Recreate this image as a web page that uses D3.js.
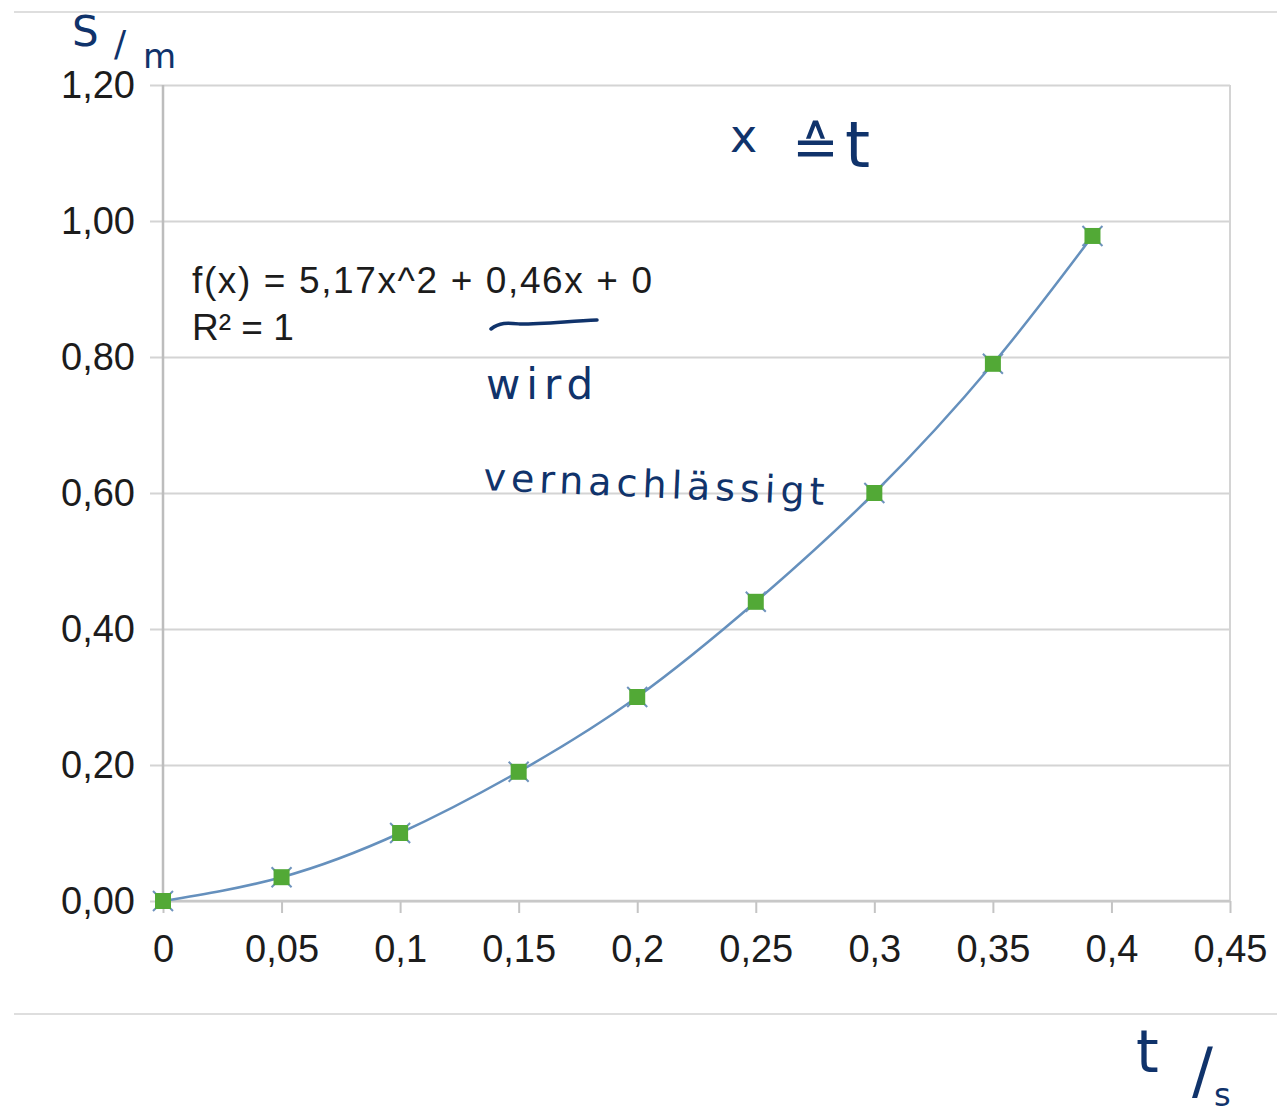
<!DOCTYPE html>
<html lang="de">
<head>
<meta charset="UTF-8">
<title>s-t Diagramm</title>
<script src="https://d3js.org/d3.v7.min.js"></script>
<style>
  body { margin: 0; background: #fff; }
  svg { display: block; }
  .tick text { font-family: "Liberation Sans", Arial, sans-serif; font-size: 38px; fill: #1c1c1c; }
  .hand { font-family: "DejaVu Sans", sans-serif; fill: #10336b; }
</style>
</head>
<body>
<div id="chart"></div>
<script>
const tValues = [0, 0.05, 0.1, 0.15, 0.2, 0.25, 0.3, 0.35, 0.392];
const sValues = [0, 0.035, 0.1, 0.19, 0.30, 0.44, 0.60, 0.79, 0.978];
const xTicks = [0, 0.05, 0.1, 0.15, 0.2, 0.25, 0.3, 0.35, 0.4, 0.45];
const yTicks = [0, 0.2, 0.4, 0.6, 0.8, 1.0, 1.2];
const equationLines = ["f(x) = 5,17x^2 + 0,46x + 0", "R² = 1"];

const width = 1277, height = 1117;
const margin = { left: 163, right: 47, top: 85, bottom: 216 };

const svg = d3.select("#chart").append("svg")
  .attr("width", width)
  .attr("height", height);

// Rahmenlinien oben/unten
svg.append("line").attr("x1", 14).attr("x2", width).attr("y1", 12).attr("y2", 12)
  .attr("stroke", "#dedede").attr("stroke-width", 2);
svg.append("line").attr("x1", 14).attr("x2", width).attr("y1", 1014).attr("y2", 1014)
  .attr("stroke", "#dedede").attr("stroke-width", 2);

const x = d3.scaleLinear().domain([0, 0.45]).range([margin.left, width - margin.right]);
const y = d3.scaleLinear().domain([0, 1.2]).range([height - margin.bottom, margin.top]);
const plotW = x(0.45) - x(0);

const comma = s => s.replace(".", ",");

// y-Achse mit Gitterlinien
const gy = svg.append("g")
  .attr("transform", `translate(${x(0)},0)`)
  .call(d3.axisLeft(y).tickValues(yTicks).tickSizeOuter(0)
    .tickFormat(d => comma(d3.format(".2f")(d))));
gy.select(".domain").remove();
gy.selectAll(".tick line").attr("x1", -13).attr("x2", plotW)
  .attr("stroke", "#d4d4d4").attr("stroke-width", 2);
gy.selectAll(".tick text").attr("x", -28);

// x-Achse
const gx = svg.append("g")
  .attr("transform", `translate(0,${y(0)})`)
  .call(d3.axisBottom(x).tickValues(xTicks).tickSizeOuter(0).tickSize(12).tickPadding(22)
    .tickFormat(d => comma(String(d))));
gx.select(".domain").remove();
gx.selectAll(".tick line").attr("stroke", "#c4c4c4").attr("stroke-width", 2);

svg.append("line").attr("x1", x(0)).attr("x2", x(0)).attr("y1", y(1.2)).attr("y2", y(0))
  .attr("stroke", "#bdbdbd").attr("stroke-width", 2.5);
svg.append("line").attr("x1", x(0.45)).attr("x2", x(0.45)).attr("y1", y(1.2)).attr("y2", y(0))
  .attr("stroke", "#d4d4d4").attr("stroke-width", 2);
svg.append("line").attr("x1", x(0)).attr("x2", x(0.45)).attr("y1", y(0)).attr("y2", y(0))
  .attr("stroke", "#c8c8c8").attr("stroke-width", 2.5);

const pts = tValues.map((t, i) => [t, sValues[i]]);

// Trendlinie
svg.append("path")
  .datum(pts)
  .attr("fill", "none")
  .attr("stroke", "#6590bd")
  .attr("stroke-width", 2.5)
  .attr("d", d3.line().x(d => x(d[0])).y(d => y(d[1])).curve(d3.curveNatural));

// Messpunkte
const m = svg.append("g").selectAll("g").data(pts).join("g")
  .attr("transform", d => `translate(${x(d[0])},${y(d[1])})`);
m.append("path").attr("d", "M-10,-10L10,10M-10,10L10,-10")
  .attr("stroke", "#6f93bd").attr("stroke-width", 2);
m.append("rect").attr("x", -8).attr("y", -8).attr("width", 16).attr("height", 16)
  .attr("fill", "#52a936");

// Gleichung
svg.append("g").selectAll("text").data(equationLines).join("text")
  .attr("x", 192)
  .attr("y", (d, i) => 293 + i * 47)
  .attr("font-family", "Liberation Sans, Arial, sans-serif")
  .attr("font-size", 37)
  .attr("fill", "#1c1c1c")
  .attr("textLength", (d, i) => i === 0 ? 460 : null)
  .text(d => d);

// handschriftliche Notizen
const hand = svg.append("g").attr("class", "hand");
hand.append("text").attr("x", 72).attr("y", 46).attr("font-size", 42).text("S");
hand.append("text").attr("x", 114).attr("y", 56).attr("font-size", 36).text("/");
hand.append("text").attr("x", 143).attr("y", 68).attr("font-size", 34).text("m");

hand.append("text").attr("x", 730).attr("y", 152).attr("font-size", 46).text("x");
hand.append("text").attr("x", 792).attr("y", 166).attr("font-size", 56).text("≙");
hand.append("text").attr("x", 845).attr("y", 167).attr("font-size", 64).text("t");

hand.append("path")
  .attr("d", "M491,329 C500,322 508,323 520,324 C545,324 570,321 597,320")
  .attr("fill", "none").attr("stroke", "#10336b").attr("stroke-width", 3.5)
  .attr("stroke-linecap", "round");
hand.append("text").attr("x", 486).attr("y", 399).attr("font-size", 42)
  .attr("letter-spacing", 6).text("wird");
hand.append("text").attr("x", 483).attr("y", 490).attr("font-size", 38)
  .attr("letter-spacing", 5)
  .attr("transform", "rotate(2.5,483,490)")
  .text("vernachlässigt");

hand.append("text").attr("x", 1136).attr("y", 1072).attr("font-size", 58).text("t");
hand.append("text").attr("x", 1192).attr("y", 1092).attr("font-size", 62).text("/");
hand.append("text").attr("x", 1214).attr("y", 1106).attr("font-size", 32).text("s");
</script>
</body>
</html>
